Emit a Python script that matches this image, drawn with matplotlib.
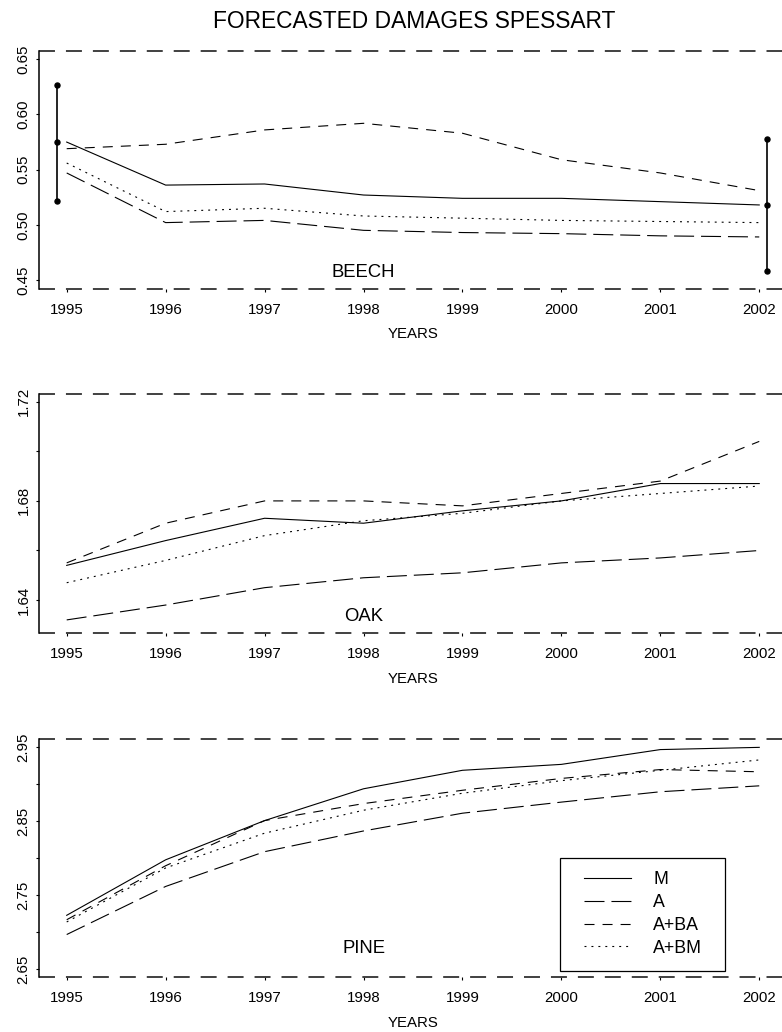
"""Forecasted damages Spessart: three stacked line panels (beech, oak, pine)."""

import matplotlib

matplotlib.use("Agg")
import matplotlib.pyplot as plt  # noqa: E402
from matplotlib.patches import Rectangle  # noqa: E402

plt.rcParams["font.family"] = ["Liberation Sans", "DejaVu Sans"]
plt.rcParams["lines.scale_dashes"] = False

years = [1995, 1996, 1997, 1998, 1999, 2000, 2001, 2002]
series_names = ["M", "A", "A+BA", "A+BM"]

beech_m = [0.575, 0.536, 0.537, 0.527, 0.524, 0.524, 0.521, 0.518]
beech_a = [0.547, 0.502, 0.504, 0.495, 0.493, 0.492, 0.490, 0.489]
beech_ba = [0.569, 0.573, 0.586, 0.592, 0.583, 0.559, 0.547, 0.531]
beech_bm = [0.556, 0.512, 0.515, 0.508, 0.506, 0.504, 0.503, 0.502]

oak_m = [1.654, 1.664, 1.673, 1.671, 1.676, 1.680, 1.687, 1.687]
oak_a = [1.632, 1.638, 1.645, 1.649, 1.651, 1.655, 1.657, 1.660]
oak_ba = [1.655, 1.671, 1.680, 1.680, 1.678, 1.683, 1.688, 1.704]
oak_bm = [1.647, 1.656, 1.666, 1.672, 1.675, 1.680, 1.683, 1.686]

pine_m = [2.723, 2.798, 2.851, 2.894, 2.919, 2.927, 2.947, 2.950]
pine_a = [2.697, 2.762, 2.809, 2.837, 2.861, 2.876, 2.890, 2.898]
pine_ba = [2.717, 2.790, 2.851, 2.874, 2.892, 2.908, 2.920, 2.917]
pine_bm = [2.714, 2.787, 2.834, 2.865, 2.888, 2.905, 2.919, 2.933]

# interval bars drawn on the beech panel (first and last year)
ci_years = [1995, 2002]
ci_lo = [0.522, 0.458]
ci_mid = [0.575, 0.518]
ci_hi = [0.627, 0.578]

beech_ticks = [0.45, 0.50, 0.55, 0.60, 0.65]
beech_labels = ["0.45", "0.50", "0.55", "0.60", "0.65"]
oak_ticks = [1.64, 1.66, 1.68, 1.70, 1.72]
oak_labels = ["1.64", "", "1.68", "", "1.72"]
pine_ticks = [2.65, 2.70, 2.75, 2.80, 2.85, 2.90, 2.95]
pine_labels = ["2.65", "", "2.75", "", "2.85", "", "2.95"]

W, H = 782, 1032
STYLES = {
    "M": "-",
    "A": (0, (14.4, 5.0)),
    "A+BA": (0, (7.2, 5.8)),
    "A+BM": (0, (1.4, 3.6)),
}


def fx(px):
    return px / W


def fy(px):
    return 1 - px / H


def panel(fig, top, bottom, name, values, ylim, ticks, labels, name_y):
    ax = fig.add_axes([fx(39), fy(bottom), fx(W - 39), fy(top) - fy(bottom)])
    for label, vals in zip(series_names, values):
        ax.plot(years, vals, color="black", lw=0.8, ls=STYLES[label], label=label)
    ax.set_xlim(1994.72, 2002.23)
    ax.set_ylim(*ylim)
    for y in ylim:  # dashed reference lines at the panel limits
        ax.axhline(y, color="#404040", lw=1.4, ls=(0, (11.5, 7.9)), clip_on=False)
    for side in ("top", "right", "bottom"):
        ax.spines[side].set_visible(False)
    ax.spines["left"].set_linewidth(1.1)
    ax.set_xticks(years)
    ax.set_xticklabels([str(y) for y in years], fontsize=10.8)
    ax.set_yticks(ticks)
    ax.set_yticklabels(labels, fontsize=10.8, rotation=90, va="center")
    ax.tick_params(axis="x", direction="out", length=2.2, width=0.8, pad=8)
    ax.tick_params(axis="y", direction="out", length=2.2, width=0.8, pad=4)
    ax.text(1998, name_y, name, fontsize=13.3, ha="center", va="baseline")
    fig.text(fx(413), fy(bottom + 49.5), "YEARS", fontsize=10.8,
             ha="center", va="baseline")
    return ax


fig = plt.figure(figsize=(W / 100, H / 100), dpi=100)
fig.text(fx(414), fy(28.3), "FORECASTED DAMAGES SPESSART", fontsize=16.4,
         ha="center", va="baseline")

ax1 = panel(fig, 50.7, 288.7, "BEECH", [beech_m, beech_a, beech_ba, beech_bm],
            (0.4421, 0.6578), beech_ticks, beech_labels, 0.4529)
offsets = [-0.1, 0.08]
for yr, off, lo, mid, hi in zip(ci_years, offsets, ci_lo, ci_mid, ci_hi):
    ax1.plot([yr + off] * 2, [lo, hi], color="black", lw=1.2)
    ax1.plot([yr + off] * 3, [lo, mid, hi], "o", color="black", ms=3.6)

panel(fig, 394.3, 633.3, "OAK", [oak_m, oak_a, oak_ba, oak_bm],
      (1.6266, 1.723), oak_ticks, oak_labels, 1.6317)
ax3 = panel(fig, 739, 977.3, "PINE", [pine_m, pine_a, pine_ba, pine_bm],
            (2.6392, 2.9613), pine_ticks, pine_labels, 2.6716)

leg = ax3.legend(loc="upper left", bbox_to_anchor=(fx(584), fy(871)),
                 bbox_transform=fig.transFigure, frameon=False, fontsize=12.8,
                 borderpad=0, borderaxespad=0, handlelength=2.65,
                 handletextpad=1.25, labelspacing=0.33)
for line in leg.get_lines():
    line.set_linewidth(0.8)
fig.patches.append(Rectangle((fx(560), fy(971)), fx(165), (971 - 857.7) / H,
                             transform=fig.transFigure, fill=False,
                             edgecolor="black", lw=0.9))

fig.savefig("out.png", dpi=100)
plt.close(fig)
